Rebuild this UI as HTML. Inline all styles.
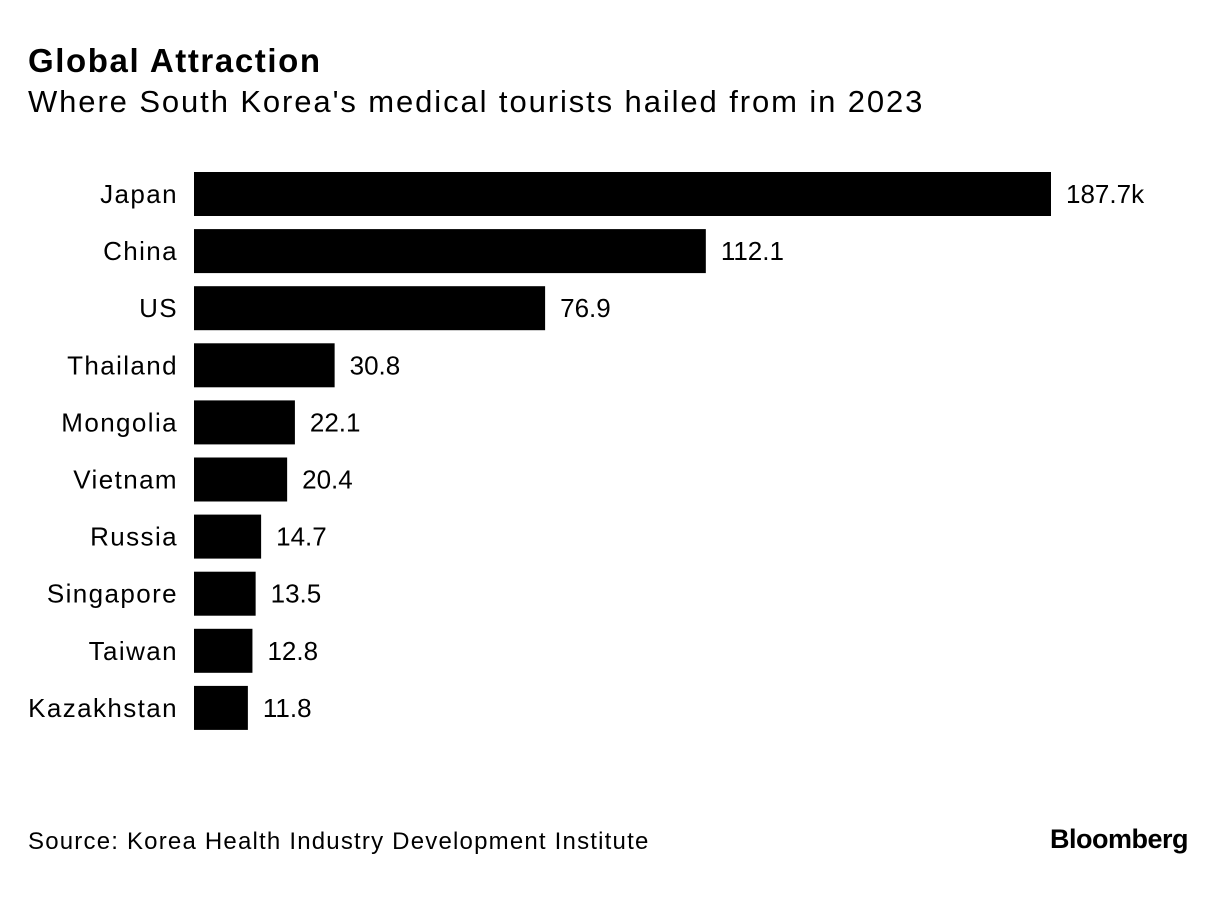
<!DOCTYPE html>
<html><head><meta charset="utf-8"><style>
body{margin:0;background:#fff;font-family:"Liberation Sans",sans-serif;color:#000}
#wrap{position:relative;width:1226px;height:900px;overflow:hidden}
.t{position:absolute;white-space:nowrap}
</style></head><body>
<div id="wrap">
<div class="t" style="left:28px;top:42px;font-size:33px;font-weight:bold;letter-spacing:1.6px">Global Attraction</div>
<div class="t" style="left:28px;top:84px;font-size:31px;letter-spacing:1.9px">Where South Korea's medical tourists hailed from in 2023</div>
<svg id="plot" width="1226" height="900" style="position:absolute;left:0;top:0"></svg>
<div class="t" style="left:28px;top:828px;font-size:24px;letter-spacing:1.2px">Source: Korea Health Industry Development Institute</div>
<div class="t" style="right:38px;top:824px;font-size:27px;font-weight:bold;letter-spacing:-0.5px">Bloomberg</div>
</div>
<script>
const categories=["Japan","China","US","Thailand","Mongolia","Vietnam","Russia","Singapore","Taiwan","Kazakhstan"];
const values=[187.7,112.1,76.9,30.8,22.1,20.4,14.7,13.5,12.8,11.8];
const valueLabels=["187.7k","112.1","76.9","30.8","22.1","20.4","14.7","13.5","12.8","11.8"];
const svg=document.getElementById('plot');
const NS="http://www.w3.org/2000/svg";
const x0=194, scale=857/187.7, top0=172, step=57.1, bh=44;
const xs=v=>v*scale;
const ys=i=>top0+i*step;
categories.forEach((c,i)=>{
  const r=document.createElementNS(NS,'rect');
  
  
  r.setAttribute('x',x0);r.setAttribute('y',ys(i));
  r.setAttribute('width',xs(values[i]));r.setAttribute('height',bh);
  r.setAttribute('fill','#000');svg.appendChild(r);
  const l=document.createElementNS(NS,'text');
  
  
  l.setAttribute('x',178);l.setAttribute('y',ys(i)+bh/2+9);
  l.setAttribute('text-anchor','end');l.setAttribute('font-size','26');
  l.setAttribute('letter-spacing','1.4');
  l.textContent=c;svg.appendChild(l);
  const v=document.createElementNS(NS,'text');
  
  
  v.setAttribute('x',x0+xs(values[i])+15);v.setAttribute('y',ys(i)+bh/2+9);
  v.setAttribute('font-size','26');
  v.textContent=valueLabels[i];svg.appendChild(v);
});
</script>
</body></html>
